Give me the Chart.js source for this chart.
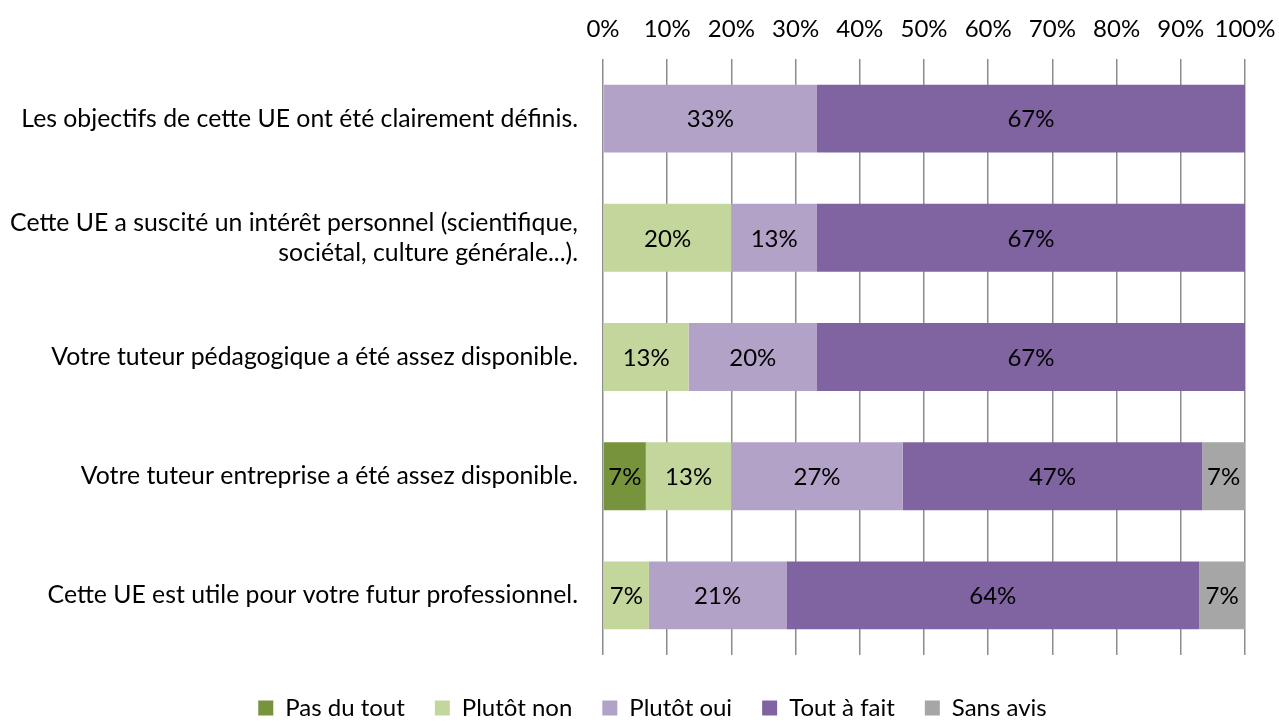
<!DOCTYPE html>
<html>
<head>
<meta charset="utf-8">
<script src="https://cdn.jsdelivr.net/npm/chart.js@4"></script>
<style>
  body { margin: 0; background: #fff; overflow: hidden; }
</style>
</head>
<body>
<canvas id="barchart" width="1279" height="724"></canvas>
<script>
const questions = [
    'Les objectifs de cette UE ont été clairement définis.',
    ['Cette UE a suscité un intérêt personnel (scientifique,', 'sociétal, culture générale...).'],
    'Votre tuteur pédagogique a été assez disponible.',
    'Votre tuteur entreprise a été assez disponible.',
    'Cette UE est utile pour votre futur professionnel.'
];
const pas_du_tout = [0, 0, 0, 6.67, 0];
const plutot_non = [0, 20, 13.33, 13.33, 7.14];
const plutot_oui = [33.33, 13.33, 20, 26.67, 21.43];
const tout_a_fait = [66.67, 66.67, 66.67, 46.67, 64.29];
const sans_avis = [0, 0, 0, 6.67, 7.14];
const xticks = [0, 10, 20, 30, 40, 50, 60, 70, 80, 90, 100];

const font_family = 'Lato, "Open Sans", sans-serif';
const font_size = 24;
Chart.defaults.font.family = font_family;
Chart.defaults.font.size = font_size;
Chart.defaults.color = '#000';

// draws the % inside each segment
const barlabels = {
    id: 'barlabels',
    afterDatasetsDraw(chart) {
        const ctx = chart.ctx;
        ctx.save();
        ctx.font = font_size + 'px ' + font_family;
        ctx.fillStyle = '#000';
        ctx.textAlign = 'center';
        ctx.textBaseline = 'middle';
        chart.data.datasets.forEach((ds, i) => {
            chart.getDatasetMeta(i).data.forEach((bar, j) => {
                let v = ds.data[j];
                if (!v) return;
                let p = bar.getCenterPoint();
                ctx.fillText(Math.round(v) + '%', p.x, p.y + 1);
            });
        });
        ctx.restore();
    }
};

// legend row sits a little right of the canvas centre in the original
const legendshift = {
    id: 'legendshift',
    afterLayout(chart) {
        if (chart.legend) chart.legend.left += 26;
    }
};

function makeset(label, values, color) {
    return {
        label: label,
        data: values,
        backgroundColor: color,
        borderColor: color,
        borderWidth: 0,
        barPercentage: 0.57,
        categoryPercentage: 1.0
    };
}

const data = {
    labels: questions,
    datasets: [
        makeset('Pas du tout', pas_du_tout, '#77933C'),
        makeset('Plutôt non', plutot_non, '#C3D69B'),
        makeset('Plutôt oui', plutot_oui, '#B3A2C7'),
        makeset('Tout à fait', tout_a_fait, '#8064A2'),
        makeset('Sans avis', sans_avis, '#A6A6A6')
    ]
};

const config = {
    type: 'bar',
    data: data,
    plugins: [barlabels, legendshift],
    options: {
        indexAxis: 'y',
        responsive: false,
        animation: false,
        layout: { padding: { left: 0, right: 0, top: 0, bottom: 0 } },
        scales: {
            x: {
                position: 'top',
                stacked: true,
                min: 0,
                max: 100,
                afterBuildTicks: (scale) => { scale.ticks = xticks.map(v => ({ value: v })); },
                afterFit: (scale) => {
                    scale.height = 59;
                    scale.paddingLeft = 0;
                    scale.paddingRight = 34;
                },
                grid: { color: '#8c8c8c', lineWidth: 1.5, drawTicks: false },
                border: { display: false },
                ticks: {
                    padding: 15,
                    maxRotation: 0,
                    callback: (v) => v + '%'
                }
            },
            y: {
                stacked: true,
                afterFit: (scale) => { scale.width = 603; },
                grid: { display: false, drawTicks: false },
                border: { display: false },
                ticks: { padding: 25, font: { size: 24.8 } }
            }
        },
        plugins: {
            tooltip: { enabled: false },
            legend: {
                position: 'bottom',
                maxHeight: 69,
                // empty title only pushes the row down a bit
                title: { display: true, text: '', padding: 0, font: { size: 11, lineHeight: 1 } },
                labels: {
                    boxWidth: 15,
                    boxHeight: 15,
                    padding: 30,
                    font: { size: 24 }
                }
            }
        }
    }
};

new Chart(document.getElementById('barchart'), config);
</script>
</body>
</html>
